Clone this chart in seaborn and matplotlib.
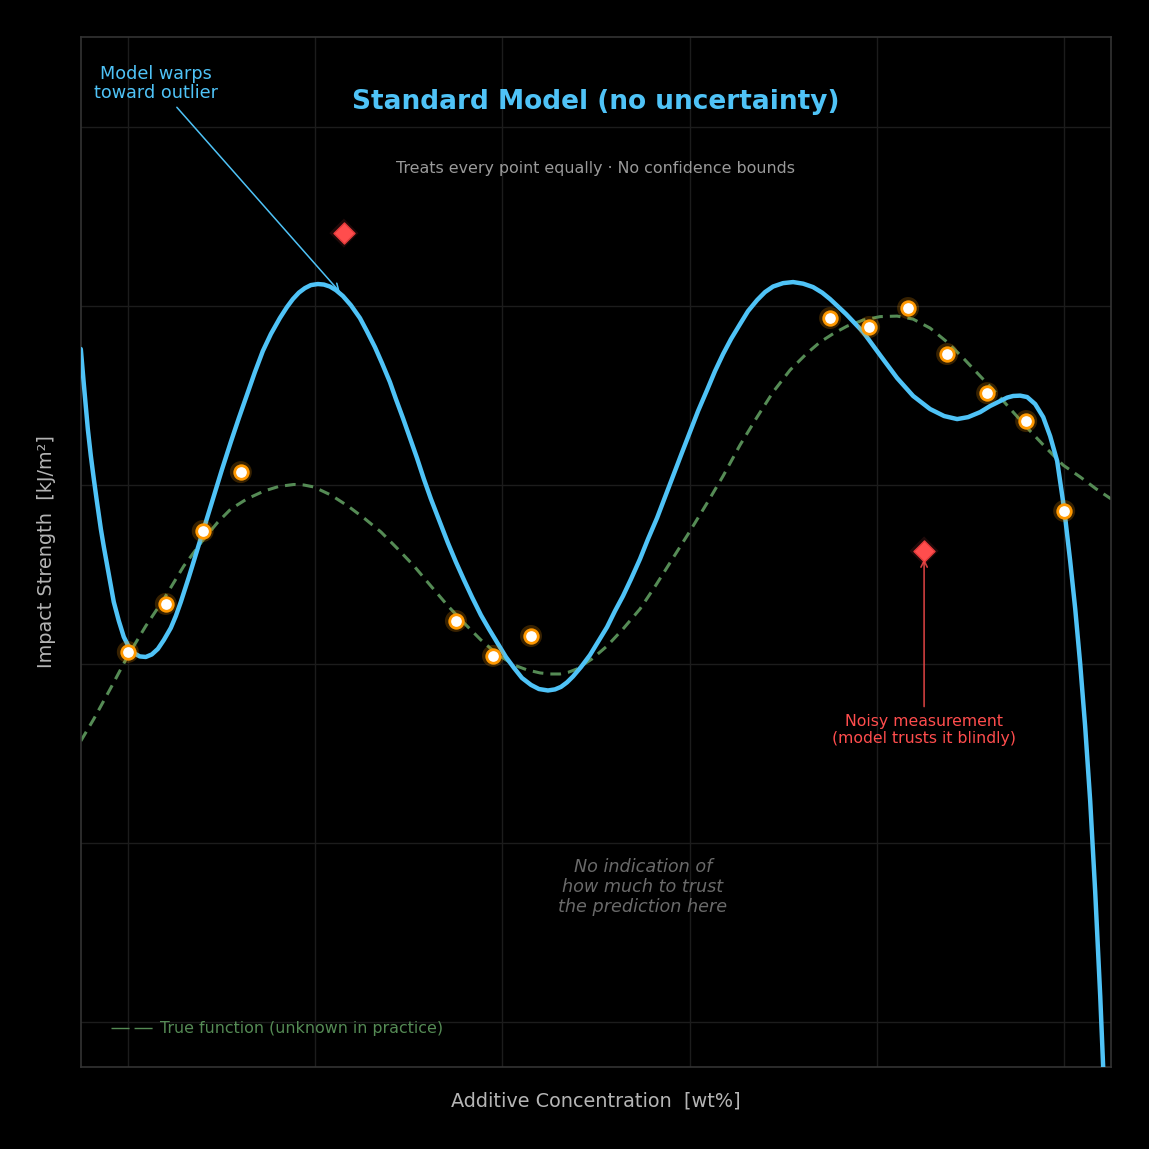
import numpy as np
import pandas as pd
import matplotlib
matplotlib.use("Agg")
import matplotlib.pyplot as plt
from matplotlib.lines import Line2D
import seaborn as sns

# ---- data ----
model_x = [-0.502, -0.470, -0.427, -0.395, -0.363, -0.331, -0.288, -0.256, -0.214, -0.182,
           -0.150, -0.096, -0.043, 0.011, 0.064, 0.128, 0.192, 0.256, 0.321, 0.385,
           0.459, 0.513, 0.566, 0.652, 0.748, 0.833, 0.919, 1.004, 1.100, 1.186,
           1.271, 1.357, 1.442, 1.528, 1.624, 1.699, 1.763, 1.827, 1.891, 1.955,
           2.030, 2.094, 2.158, 2.222, 2.297, 2.382, 2.479, 2.553, 2.639, 2.714,
           2.799, 2.863, 2.938, 3.013, 3.088, 3.162, 3.237, 3.333, 3.419, 3.504,
           3.590, 3.675, 3.771, 3.857, 3.953, 4.038, 4.124, 4.209, 4.306, 4.391,
           4.487, 4.562, 4.626, 4.690, 4.754, 4.840, 4.936, 5.021, 5.118, 5.203,
           5.288, 5.374, 5.470, 5.556, 5.652, 5.737, 5.823, 5.908, 6.004, 6.090,
           6.186, 6.271, 6.357, 6.442, 6.538, 6.624, 6.720, 6.805, 6.891, 6.998,
           7.105, 7.212, 7.318, 7.415, 7.500, 7.671, 7.853, 8.034, 8.216, 8.387,
           8.568, 8.718, 8.857, 8.974, 9.103, 9.209, 9.316, 9.391, 9.455, 9.530,
           9.605, 9.690, 9.776, 9.850, 9.925, 10.000, 10.064, 10.118, 10.171, 10.224,
           10.278, 10.331, 10.385, 10.438, 10.481]
model_y = [1.758, 1.563, 1.311, 1.161, 1.032, 0.910, 0.753, 0.653, 0.530, 0.435,
           0.346, 0.240, 0.151, 0.095, 0.061, 0.042, 0.039, 0.053, 0.084, 0.134,
           0.201, 0.268, 0.346, 0.485, 0.647, 0.792, 0.938, 1.083, 1.239, 1.373,
           1.501, 1.629, 1.747, 1.842, 1.931, 1.992, 2.037, 2.073, 2.098, 2.115,
           2.121, 2.118, 2.107, 2.087, 2.054, 2.003, 1.931, 1.858, 1.769, 1.680,
           1.574, 1.479, 1.373, 1.261, 1.150, 1.032, 0.921, 0.792, 0.675, 0.569,
           0.469, 0.374, 0.273, 0.195, 0.112, 0.039, -0.022, -0.078, -0.117, -0.140,
           -0.148, -0.142, -0.128, -0.103, -0.070, -0.017, 0.050, 0.123, 0.206, 0.296,
           0.379, 0.474, 0.586, 0.698, 0.815, 0.932, 1.049, 1.166, 1.295, 1.412,
           1.529, 1.635, 1.730, 1.814, 1.897, 1.970, 2.031, 2.076, 2.107, 2.126,
           2.132, 2.123, 2.104, 2.073, 2.037, 1.953, 1.853, 1.724, 1.596, 1.496,
           1.423, 1.384, 1.367, 1.378, 1.406, 1.440, 1.468, 1.487, 1.496, 1.498,
           1.490, 1.451, 1.378, 1.272, 1.133, 0.865, 0.575, 0.307, 0.000, -0.349,
           -0.767, -1.270, -1.855, -2.522, -3.069]

true_x = [-0.502, -0.363, -0.182, 0.000, 0.192, 0.385, 0.598, 0.812, 0.962, 1.100,
          1.271, 1.453, 1.613, 1.774, 1.880, 1.987, 2.169, 2.350, 2.521, 2.703,
          2.874, 3.056, 3.237, 3.419, 3.590, 3.771, 3.942, 4.124, 4.263, 4.402,
          4.509, 4.615, 4.701, 4.797, 4.957, 5.118, 5.288, 5.470, 5.641, 5.823,
          6.004, 6.186, 6.357, 6.538, 6.720, 6.891, 7.073, 7.254, 7.393, 7.543,
          7.682, 7.853, 8.034, 8.216, 8.387, 8.568, 8.750, 8.921, 9.103, 9.284,
          9.455, 9.637, 9.818, 9.989, 10.171, 10.342, 10.502]
true_y = [-0.430, -0.307, -0.134, 0.045, 0.212, 0.363, 0.547, 0.698, 0.792, 0.865,
          0.921, 0.965, 0.991, 1.002, 0.999, 0.988, 0.943, 0.882, 0.815, 0.737,
          0.647, 0.547, 0.435, 0.324, 0.229, 0.134, 0.056, -0.006, -0.033, -0.050,
          -0.056, -0.056, -0.047, -0.028, 0.028, 0.100, 0.195, 0.307, 0.441, 0.592,
          0.742, 0.898, 1.049, 1.222, 1.378, 1.518, 1.641, 1.735, 1.797, 1.847,
          1.886, 1.920, 1.939, 1.942, 1.925, 1.875, 1.797, 1.708, 1.607, 1.507,
          1.406, 1.300, 1.200, 1.110, 1.044, 0.977, 0.921]

obs_x = [0.00, 0.406, 0.80, 1.207, 3.504, 3.90, 4.306, 7.50, 7.917, 8.333, 8.75, 9.177, 9.594, 10.00]
obs_y = [0.067, 0.335, 0.742, 1.071, 0.240, 0.045, 0.156, 1.931, 1.881, 1.987, 1.730, 1.512, 1.356, 0.854]

outlier_x = [2.308, 8.504]
outlier_y = [2.405, 0.631]

title_text = "Standard Model (no uncertainty)"
subtitle_text = "Treats every point equally \u00b7 No confidence bounds"
xlabel_text = "Additive Concentration  [wt%]"
ylabel_text = "Impact Strength  [kJ/m\u00b2]"
legend_text = "True function (unknown in practice)"

# ---- style ----
BLUE = "#4FC3F7"
GREEN = "#558B55"
ORANGE = "#FF9800"
RED = "#FF4D4D"

sns.set_style("dark", {"axes.facecolor": "black", "figure.facecolor": "black",
                       "axes.edgecolor": "#333333", "grid.color": "#1c1c1c"})
plt.rcParams['font.family'] = ['DejaVu Sans']

fig = plt.figure(figsize=(11.49, 11.49), dpi=100)
ax = fig.add_axes([81 / 1149, 1 - 1067 / 1149, 1030 / 1149, 1030 / 1149])
ax.set_facecolor("black")

df_model = pd.DataFrame({"x": model_x, "y": model_y})
df_true = pd.DataFrame({"x": true_x, "y": true_y})
df_obs = pd.DataFrame({"x": obs_x, "y": obs_y})
df_out = pd.DataFrame({"x": outlier_x, "y": outlier_y})

sns.lineplot(data=df_true, x="x", y="y", ax=ax, color=GREEN, lw=2.2, sort=False,
             linestyle=(0, (3.5, 2.3)), legend=False, zorder=2)
sns.lineplot(data=df_model, x="x", y="y", ax=ax, color=BLUE, lw=3.2, sort=False,
             legend=False, zorder=4, solid_joinstyle="round", solid_capstyle="round")

# glow + points
sns.scatterplot(data=df_obs, x="x", y="y", ax=ax, s=250, color=ORANGE, alpha=0.22,
                edgecolor="none", legend=False, zorder=5)
sns.scatterplot(data=df_obs, x="x", y="y", ax=ax, s=95, color="white", edgecolor=ORANGE,
                linewidth=2.0, legend=False, zorder=6)
sns.scatterplot(data=df_out, x="x", y="y", ax=ax, s=220, color=RED, alpha=0.12, marker="D",
                edgecolor="none", legend=False, zorder=5)
sns.scatterplot(data=df_out, x="x", y="y", ax=ax, s=115, color=RED, marker="D",
                edgecolor="#E63B3B", linewidth=1, legend=False, zorder=6)

ax.set_xlim(-0.5, 10.5)
ax.set_ylim(-2.25, 3.5)
ax.set_xticks([0, 2, 4, 6, 8, 10])
ax.set_yticks([-2, -1, 0, 1, 2, 3])
ax.tick_params(length=0, labelbottom=False, labelleft=False)
ax.grid(True, color="#1c1c1c", lw=1)
for s in ax.spines.values():
    s.set_visible(True)
    s.set_color("#333333")
    s.set_linewidth(1.2)

ax.set_xlabel(xlabel_text, color="#b5b5b5", fontsize=13.9, labelpad=17.5)
ax.set_ylabel(ylabel_text, color="#b5b5b5", fontsize=13.9, labelpad=18)

ax.text(0.5, 0.937, title_text, transform=ax.transAxes, ha="center", va="center",
        color=BLUE, fontsize=19, fontweight="bold")
ax.text(0.5, 0.872, subtitle_text, transform=ax.transAxes, ha="center", va="center",
        color="#9a9a9a", fontsize=11.4)

ax.annotate("Model warps\ntoward outlier", xy=(2.265, 2.076), xytext=(0.30, 3.24),
            ha="center", va="center", color=BLUE, fontsize=12.7, linespacing=1.05,
            arrowprops=dict(arrowstyle="->", color=BLUE, lw=1.1, shrinkA=2, shrinkB=0))
ax.annotate("Noisy measurement\n(model trusts it blindly)", xy=(8.504, 0.586), xytext=(8.504, -0.368),
            ha="center", va="center", color=RED, fontsize=11.3, linespacing=1.15,
            arrowprops=dict(arrowstyle="->", color=RED, alpha=0.8, lw=1.2, shrinkA=3, shrinkB=0))
ax.text(5.502, -1.244, "No indication of\nhow much to trust\nthe prediction here",
        ha="center", va="center", color="#6a6a6a", fontsize=12.7, fontstyle="italic",
        linespacing=1.15)

handle = Line2D([], [], color=GREEN, lw=1.0, dashes=(13, 3.6))
ax.legend(handles=[handle], labels=[legend_text], loc="lower left", frameon=False,
          fontsize=11.4, labelcolor=GREEN, bbox_to_anchor=(0.015, 0.016),
          handlelength=2.7, handletextpad=0.4)

fig.savefig("out.png", dpi=100, facecolor="black")
